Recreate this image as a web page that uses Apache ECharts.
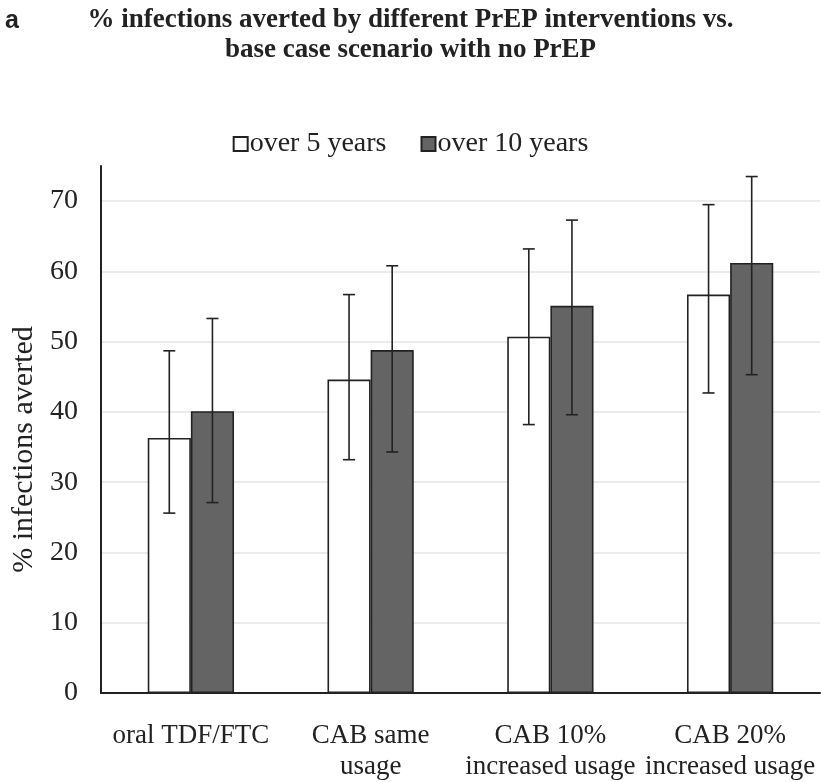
<!DOCTYPE html>
<html>
<head>
<meta charset="utf-8">
<script src="https://cdn.jsdelivr.net/npm/echarts@6/dist/echarts.min.js"></script>
<style>html,body{margin:0;padding:0;background:#fff}#c{width:821px;height:782px}</style>
</head>
<body>
<div id="c"></div>
<script>
var categories = ['oral TDF/FTC', 'CAB same\nusage', 'CAB 10%\nincreased usage', 'CAB 20%\nincreased usage'];
var seriesNames = ['over 5 years', 'over 10 years'];
var values5 = [36.3, 44.6, 50.7, 56.7];
var values10 = [40.1, 48.8, 55.1, 61.2];
var low5 = [25.6, 33.2, 38.2, 42.7];
var high5 = [48.7, 56.7, 63.2, 69.5];
var low10 = [27.1, 34.3, 39.6, 45.3];
var high10 = [53.3, 60.8, 67.3, 73.5];
var yTicks = [0, 10, 20, 30, 40, 50, 60, 70];

var FONT = '"Liberation Serif", "Times New Roman", serif';
var BARW = 0.24;

function errSeries(lows, highs, side) {
  var data = lows.map(function (l, i) { return [i, l, highs[i]]; });
  return {
    type: 'custom',
    silent: true,
    z: 10,
    data: data,
    renderItem: function (params, api) {
      var band = api.size([1, 0])[0];
      var off = side * band * BARW / 2;
      var lo = api.coord([api.value(0), api.value(1)]);
      var hi = api.coord([api.value(0), api.value(2)]);
      var x = lo[0] + off;
      var cap = 6;
      var st = { stroke: '#222', lineWidth: 1.6 };
      return {
        type: 'group',
        children: [
          { type: 'line', shape: { x1: x, y1: lo[1], x2: x, y2: hi[1] }, style: st },
          { type: 'line', shape: { x1: x - cap, y1: lo[1], x2: x + cap, y2: lo[1] }, style: st },
          { type: 'line', shape: { x1: x - cap, y1: hi[1], x2: x + cap, y2: hi[1] }, style: st }
        ]
      };
    }
  };
}

var chart = echarts.init(document.getElementById('c'));
chart.setOption({
  animation: false,
  title: [
    {
      text: '% infections averted by different PrEP interventions vs.\nbase case scenario with no PrEP',
      left: 'center',
      top: 0,
      textStyle: { fontFamily: FONT, fontWeight: 'bold', fontSize: 27, lineHeight: 30, color: '#222' }
    },
    {
      text: 'a',
      left: 0,
      top: 4,
      textStyle: { fontFamily: '"Liberation Sans", Arial, sans-serif', fontWeight: 'bold', fontSize: 25, color: '#222' }
    }
  ],
  legend: {
    top: 125,
    left: 'center',
    icon: 'rect',
    itemWidth: 14,
    itemHeight: 14,
    itemGap: 34,
    textStyle: { fontFamily: FONT, fontSize: 28, color: '#222', padding: [0, 0, 0, -3] },
    data: seriesNames
  },
  grid: { left: 101, right: 1, top: 166, bottom: 83 },
  xAxis: {
    type: 'category',
    data: categories,
    axisLine: { lineStyle: { color: '#222', width: 2 } },
    axisTick: { show: false },
    axisLabel: { interval: 0, fontFamily: FONT, fontSize: 27, lineHeight: 31, color: '#222', margin: 27 }
  },
  yAxis: {
    type: 'value',
    min: 0,
    max: 75,
    interval: 10,
    name: '% infections averted',
    nameLocation: 'middle',
    nameGap: 60,
    nameTextStyle: { fontFamily: FONT, fontSize: 30, color: '#222', padding: [0, 40, 0, 0] },
    axisLine: { show: true, lineStyle: { color: '#222', width: 2 } },
    axisTick: { show: false },
    axisLabel: { fontFamily: FONT, fontSize: 28, color: '#222', margin: 23, showMaxLabel: false },
    splitLine: { show: true, showMaxLine: false, lineStyle: { color: '#e4e4e4', width: 1.5 } }
  },
  series: [
    {
      name: seriesNames[0],
      type: 'bar',
      data: values5,
      barWidth: (BARW * 100) + '%',
      barGap: '0%',
      itemStyle: { color: '#ffffff', borderColor: '#222', borderWidth: 1.6 }
    },
    {
      name: seriesNames[1],
      type: 'bar',
      data: values10,
      barWidth: (BARW * 100) + '%',
      barGap: '0%',
      itemStyle: { color: '#646464', borderColor: '#222', borderWidth: 1.6 }
    },
    errSeries(low5, high5, -1),
    errSeries(low10, high10, 1)
  ]
});
</script>
</body>
</html>
